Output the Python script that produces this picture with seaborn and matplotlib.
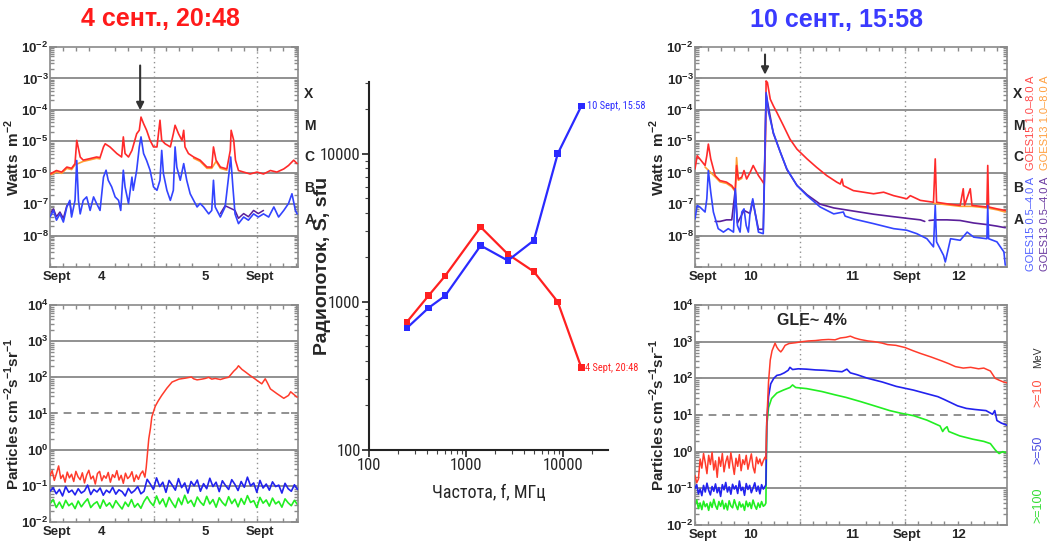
import numpy as np
import matplotlib
matplotlib.use("Agg")
import matplotlib.pyplot as plt
import matplotlib.font_manager as fm
from matplotlib.ticker import MultipleLocator, LogLocator, NullFormatter
import seaborn as sns

# ---------------- data (log10 values) ----------------
# Left GOES X-ray (4 Sept), time in hours from 4 Sept 00:00
lg_red_t = [0, 1.5, 2.7, 3.9, 5.0, 5.8, 6.2, 7.0, 7.7, 9.3, 10.8, 11.6, 12.4, 12.8, 13.9, 15.5, 16.6, 17.0, 17.4,
            18.2, 19.0, 20.1, 20.7, 21.1, 21.7, 22.4, 23.2, 24.0, 24.8, 25.5, 25.9, 26.7, 27.9, 28.6, 29.0, 29.8,
            30.6, 31.0, 31.3, 32.1, 33.3, 34.8, 35.6, 36.4, 37.5, 37.9, 38.5, 39.5, 41.0, 41.8, 42.0, 42.6, 43.0,
            43.7, 44.9, 46.4, 48.0, 49.5, 51.1, 52.6, 54.2, 55.3, 56.5, 57.3]
lg_red_v = [-6.04, -5.93, -5.98, -5.82, -5.86, -5.71, -4.97, -5.50, -5.60, -5.55, -5.50, -5.52, -5.18, -5.08, -5.18,
            -5.39, -5.50, -4.86, -5.39, -5.50, -5.29, -4.76, -4.65, -4.23, -4.44, -4.65, -4.97, -5.18, -5.18, -4.33,
            -4.97, -5.08, -5.18, -4.76, -4.49, -4.76, -4.97, -4.65, -5.18, -5.39, -5.50, -5.60, -5.71, -5.82, -5.82,
            -5.18, -5.60, -5.82, -5.88, -5.29, -4.65, -4.97, -5.60, -5.93, -5.98, -6.04, -5.98, -6.04, -5.93, -5.98,
            -5.88, -5.77, -5.60, -5.71]
lg_orange_t = [0, 1.5, 2.7, 3.9, 5.0, 5.8, 7.7, 9.3, 10.8, 11.6]
lg_orange_v = [-6.08, -5.97, -6.02, -5.86, -5.90, -5.75, -5.64, -5.59, -5.54, -5.56]
lg_orange2_t = [33.3, 34.8, 35.6, 36.4, 37.5, 38.5, 39.5, 41.0]
lg_orange2_v = [-5.54, -5.64, -5.75, -5.86, -5.86, -5.64, -5.86, -5.92]
lg_blue_t = [0, 0.8, 1.5, 2.3, 3.1, 3.9, 4.6, 5.0, 5.8, 6.2, 6.6, 7.0, 7.7, 8.5, 9.3, 10.1, 10.8, 11.6, 12.4, 13.0,
             13.5, 14.3, 15.1, 15.9, 16.4, 17.0, 17.4, 18.2, 19.0, 19.3, 20.1, 20.7, 21.1, 21.7, 22.4, 23.2, 24.0,
             24.8, 25.5, 25.9, 26.3, 27.1, 27.9, 28.6, 29.0, 29.4, 30.2, 31.0, 31.7, 32.5, 33.3, 34.1, 34.8, 35.6,
             36.8, 37.5, 37.9, 38.3, 39.5, 40.6, 41.4, 41.9, 42.4, 42.9, 43.7, 44.9, 46.0, 47.2, 48.3, 49.5, 50.7,
             51.9, 53.0, 54.2, 55.3, 56.1, 56.9, 57.3]
lg_blue_v = [-7.41, -7.20, -7.51, -7.31, -7.57, -7.09, -6.88, -7.41, -6.88, -5.61, -6.88, -7.31, -6.88, -6.77, -7.20,
             -6.77, -6.98, -7.20, -6.14, -5.92, -6.24, -6.45, -6.77, -6.88, -7.20, -5.92, -6.45, -6.98, -6.14, -6.56,
             -5.92, -5.18, -4.86, -5.39, -5.61, -5.92, -6.45, -6.56, -6.24, -5.29, -6.03, -6.56, -6.88, -6.56, -5.18,
             -5.82, -6.24, -5.71, -6.24, -6.67, -6.88, -7.09, -6.98, -7.09, -7.31, -7.20, -6.24, -7.09, -7.41, -7.09,
             -6.14, -5.50, -6.45, -7.31, -7.62, -7.41, -7.51, -7.31, -7.41, -7.31, -7.41, -7.09, -7.41, -7.20, -6.98,
             -6.67, -7.20, -7.31]
lg_purple_t = [0, 0.8, 1.5, 2.3, 3.1, 3.9, 4.6, 5.0]
lg_purple_v = [-7.30, -7.15, -7.40, -7.25, -7.45, -7.05, -6.95, -7.30]
lg_purple2_t = [39.5, 40.6, 42.9, 43.7, 44.9, 46.0, 47.2, 48.3, 49.5]
lg_purple2_v = [-7.30, -7.05, -7.20, -7.45, -7.30, -7.40, -7.20, -7.30, -7.20]

# Left particles (4 Sept)
lp_red_noise = [-0.72, -0.58, -0.85, -0.66, -0.45, -0.80, -0.70, -0.90, -0.62, -0.78,
                -0.68, -0.88, -0.60, -0.75, -0.83, -0.64, -0.92, -0.70, -0.57, -0.81,
                -0.73, -0.95, -0.66, -0.60, -0.86, -0.72, -0.79, -0.63, -0.90, -0.69,
                -0.77, -0.58, -0.84, -0.71, -0.93, -0.65, -0.80, -0.74, -0.61, -0.88,
                -0.70, -0.82, -0.67, -0.59, -0.76]
lp_red_t = [22.3, 22.6, 22.9, 23.3, 23.6, 24.0, 24.4, 25.1, 25.9, 27.1, 28.3, 29.9, 31.5, 32.8, 33.3, 34.1, 35.2,
            36.0, 36.8, 37.5, 38.3, 39.5, 40.6, 41.4, 42.6, 43.3, 43.7, 44.5, 45.3, 46.4, 47.6, 48.4, 49.1, 49.9,
            50.4, 51.1, 52.6, 54.2, 55.3, 55.8, 56.6, 57.3]
lp_red_v = [-0.50, -0.10, 0.30, 0.60, 0.90, 1.05, 1.20, 1.35, 1.50, 1.70, 1.87, 1.95, 1.98, 2.01, 1.96, 1.93, 1.95,
            1.97, 2.00, 1.95, 1.97, 1.94, 1.98, 2.00, 2.17, 2.25, 2.32, 2.22, 2.15, 2.05, 1.95, 1.88, 1.82, 1.96,
            1.85, 1.68, 1.55, 1.42, 1.50, 1.60, 1.52, 1.45]
lp_blue_v = [-1.15, -1.05, -1.22, -1.10, -1.28, -1.02, -1.18, -1.12, -1.25, -1.08, -1.20, -1.14, -0.98, -1.24,
             -1.10, -1.17, -1.06, -1.26, -1.12, -1.19, -1.04, -1.23, -1.11, -1.16, -1.28, -1.07, -1.20, -1.13,
             -1.02, -1.22, -1.15,
             -0.82, -0.95, -1.10, -0.78, -1.02, -0.90, -1.18, -0.85, -0.98, -1.12, -0.80, -1.05, -0.92, -1.20,
             -0.88, -1.00, -0.84, -1.15, -0.94, -1.08, -0.79, -1.02, -0.90, -1.16, -0.86, -0.99, -1.10, -0.83,
             -0.96, -1.13, -0.88, -1.04, -0.76, -1.00, -0.92, -1.18, -0.85, -1.06, -0.95, -1.12, -0.89, -1.02,
             -0.98, -1.20, -0.93, -1.08, -1.15, -0.97, -1.10]
lp_green_v = [-1.50, -1.38, -1.60, -1.45, -1.62, -1.40, -1.55, -1.48, -1.63, -1.42, -1.58, -1.46, -1.36, -1.60,
              -1.50, -1.44, -1.62, -1.39, -1.56, -1.47, -1.61, -1.41, -1.53, -1.64, -1.45, -1.57, -1.38, -1.59,
              -1.49, -1.62, -1.43,
              -1.30, -1.45, -1.55, -1.28, -1.50, -1.36, -1.58, -1.32, -1.47, -1.60, -1.34, -1.52, -1.26, -1.48,
              -1.40, -1.57, -1.31, -1.45, -1.54, -1.29, -1.50, -1.38, -1.59, -1.33, -1.46, -1.55, -1.30, -1.49,
              -1.37, -1.58, -1.35, -1.51, -1.27, -1.46, -1.41, -1.60, -1.32, -1.48, -1.39, -1.56, -1.34, -1.50,
              -1.43, -1.59, -1.36, -1.47, -1.55, -1.40, -1.52]

# Right GOES X-ray (10 Sept), hours from 10 Sept 00:00
rg_red_t = [0, 0.5, 1.1, 2.3, 2.7, 3.05, 3.6, 4.6, 5.7, 7.2, 8.4, 9.2, 9.5, 9.9, 10.7, 11.2, 11.8, 12.6, 13.3, 13.7,
            14.5, 15.3, 15.8, 16.1, 16.25, 16.55, 17.2, 17.9, 18.7, 20.2, 21.7, 23.3, 25.6, 27.8, 30.1, 32.4, 33.2,
            33.6, 33.9, 36.2, 38.5, 40.8, 43.1, 45.4, 48.4, 49.2, 51.5, 54.5, 54.9, 55.2, 57.6, 60.6, 61.3, 61.6,
            62.9, 63.3, 66.7, 66.9, 67.1, 69.0, 70.9]
rg_red_v = [-5.88, -5.46, -5.56, -5.77, -5.46, -5.09, -5.56, -6.09, -6.25, -6.30, -6.41, -6.57, -5.77, -6.20, -6.14,
            -5.93, -6.20, -5.99, -5.77, -5.88, -6.09, -6.25, -6.36, -5.03, -3.08, -3.13, -3.66, -3.87, -4.08, -4.50,
            -4.93, -5.25, -5.56, -5.83, -6.09, -6.30, -6.36, -6.20, -6.41, -6.57, -6.62, -6.67, -6.62, -6.73, -6.83,
            -6.73, -6.88, -6.94, -5.56, -6.94, -6.99, -7.04, -6.51, -7.04, -6.51, -7.04, -7.09, -5.77, -7.09, -7.15,
            -7.20]
rg_orange_t = [2.3, 4.6, 5.7, 7.2, 8.4, 9.2, 9.5, 9.9, 10.7]
rg_orange_v = [-5.82, -6.13, -6.29, -6.34, -6.45, -6.60, -5.52, -6.24, -6.18]
rg_orange2_t = [54.5, 57.6, 60.6, 63.3, 66.7, 69.0, 70.9]
rg_orange2_v = [-6.97, -7.02, -7.07, -7.07, -7.12, -7.18, -7.25]
rg_blue_t = [0, 0.5, 1.1, 2.3, 2.7, 3.05, 3.6, 4.2, 5.3, 6.5, 7.6, 8.8, 9.2, 9.7, 10.3, 10.7, 11.2, 11.7, 12.2, 12.6,
             13.2, 13.7, 14.5, 15.6, 15.9, 16.25, 16.8, 17.9, 19.5, 21.0, 23.3, 25.6, 28.6, 31.7, 33.9, 34.3, 36.2,
             40.8, 45.4, 48.4, 50.7, 53.0, 54.5, 54.9, 55.2, 56.8, 57.2, 58.4, 60.6, 62.2, 63.7, 66.7, 66.9, 67.1,
             69.0, 70.6, 70.9]
rg_blue_v = [-7.47, -7.04, -7.09, -7.25, -6.83, -5.93, -6.62, -7.25, -7.78, -7.89, -7.78, -7.89, -6.51, -7.68, -7.89,
             -7.25, -7.15, -7.68, -7.89, -7.25, -6.83, -7.25, -7.89, -7.94, -5.99, -3.45, -4.08, -4.72, -5.35, -5.88,
             -6.41, -6.73, -7.09, -7.31, -7.25, -7.38, -7.47, -7.62, -7.78, -7.83, -7.94, -8.10, -8.36, -7.04, -8.20,
             -8.63, -8.84, -8.10, -8.15, -7.89, -8.05, -8.10, -7.04, -8.10, -8.20, -8.52, -8.94]
rg_purple_t = [4.6, 5.7, 7.2, 8.4, 9.2, 9.7, 11.2, 12.6, 13.2, 14.5, 15.6, 16.25, 17.9, 21.0,
               23.3, 25.6, 28.6, 31.7, 36.2, 40.8, 45.4, 48.4, 51.5, 52.5]
rg_purple_v = [-7.55, -7.55, -7.50, -7.50, -6.55, -7.60, -7.20, -7.30, -6.90, -7.80,
               -7.80, -3.50, -4.75, -5.90, -6.40, -6.70, -7.00, -7.12, -7.22, -7.32, -7.40, -7.45, -7.50, -7.55]
rg_purple2_t = [53.5, 55.0, 57.6, 60.6, 63.7, 66.7, 69.0, 70.9]
rg_purple2_v = [-7.52, -7.50, -7.50, -7.52, -7.60, -7.65, -7.70, -7.75]

# Right particles (10 Sept)
rp_red_noise = [-0.65, -0.85, -0.75, -0.20, -0.45, -0.05, -0.30, -0.60, -0.10, -0.35, -0.02, -0.50, -0.25, -0.70,
                -0.15, -0.40, -0.05, -0.55, -0.28, -0.12, -0.45, -0.03, -0.32, -0.62, -0.18, -0.40, -0.08, -0.52,
                -0.22, -0.35, -0.10, -0.48, -0.27, -0.06, -0.42, -0.58, -0.15, -0.33, -0.20, -0.38, -0.25, -0.15]
rp_blue_noise = [-1.00, -0.90, -1.15, -1.02, -1.20, -0.92, -1.10, -0.86, -1.05, -1.18, -0.95, -1.08, -0.88, -1.12,
                 -0.98, -1.22, -0.90, -1.04, -0.84, -1.10, -0.96, -1.16, -0.89, -1.02, -0.93, -1.14, -0.80, -1.06,
                 -0.97, -1.19, -0.87, -1.03, -0.92, -1.12, -0.99, -0.85, -1.08, -0.94, -1.15, -0.90, -1.02, -0.95]
rp_green_noise = [-1.45, -1.32, -1.55, -1.40, -1.58, -1.35, -1.50, -1.42, -1.60, -1.38, -1.52, -1.30, -1.47, -1.57,
                  -1.36, -1.49, -1.33, -1.56, -1.41, -1.59, -1.34, -1.48, -1.53, -1.31, -1.46, -1.58, -1.37, -1.51,
                  -1.43, -1.60, -1.35, -1.50, -1.39, -1.55, -1.32, -1.47, -1.57, -1.40, -1.52, -1.36, -1.49, -1.45]
rp_red_t = [16.2, 16.4, 16.8, 17.2, 17.6, 18.3, 18.7, 19.1, 19.6, 20.0, 20.6, 21.5, 22.9, 24.5, 25.9, 27.5, 29.0,
            30.5, 32.0, 33.2, 34.5, 35.5, 36.5, 37.7, 39.5, 41.0, 42.8, 44.0, 45.9, 48.0, 49.9, 51.5, 54.0, 56.5,
            58.0, 59.5, 61.3, 63.0, 64.8, 66.0, 67.5, 68.6, 69.5, 70.5, 71.3]
rp_red_v = [-0.20, 0.80, 1.90, 2.50, 2.75, 2.96, 2.85, 2.78, 2.72, 2.78, 2.90, 2.95, 2.97, 3.00, 3.02, 3.03, 3.05,
            3.06, 3.05, 3.10, 3.12, 3.15, 3.10, 3.06, 3.02, 3.00, 2.96, 2.92, 2.90, 2.84, 2.75, 2.68, 2.58, 2.47,
            2.40, 2.32, 2.28, 2.30, 2.26, 2.28, 2.20, 2.00, 1.95, 1.90, 1.88]
rp_blue_t = [16.2, 16.4, 16.8, 17.3, 18.0, 18.7, 19.5, 20.4, 21.3, 21.7, 22.3, 23.6, 25.5, 27.5, 29.5, 31.5, 33.6,
             34.7, 35.5, 37.0, 39.5, 42.8, 46.0, 49.9, 53.0, 55.5, 57.0, 60.0, 62.0, 64.0, 66.5, 68.0, 68.5, 69.0,
             70.0, 71.3]
rp_blue_v = [-0.90, 0.80, 1.50, 1.85, 2.00, 2.08, 2.10, 2.15, 2.22, 2.30, 2.24, 2.26, 2.25, 2.23, 2.22, 2.20, 2.18,
             2.25, 2.15, 2.10, 2.00, 1.90, 1.78, 1.68, 1.58, 1.50, 1.42, 1.25, 1.18, 1.15, 1.12, 1.02, 1.12, 0.85,
             0.78, 0.72]
rp_green_t = [16.2, 16.4, 16.8, 17.5, 18.7, 20.2, 21.7, 22.3, 23.0, 25.5, 29.0, 32.0, 34.5, 38.0, 41.0, 44.5, 47.0,
              50.0, 53.0, 56.0, 56.6, 57.0, 57.6, 58.0, 60.5, 63.5, 66.0, 67.5, 68.6, 69.0, 69.5, 70.3, 71.3]
rp_green_v = [-1.40, 0.70, 1.20, 1.45, 1.60, 1.68, 1.75, 1.82, 1.75, 1.72, 1.64, 1.55, 1.48, 1.36, 1.25, 1.12, 1.05,
              0.98, 0.86, 0.70, 0.55, 0.62, 0.68, 0.55, 0.43, 0.34, 0.28, 0.22, 0.05, 0.00, -0.05, 0.00, -0.03]

# Radio spectrum (middle panel)
freq_mhz = [245, 410, 610, 1415, 2695, 4995, 8800, 15400]
flux_4sep = [730, 1100, 1500, 3200, 2100, 1600, 1000, 360]
flux_10sep = [665, 910, 1100, 2400, 1900, 2600, 10000, 21000]

left_xlabels = ["Sept", "4", "5", "Sept"]
left_xlabel_pos = [1.6, 12, 36, 48.6]
right_xlabels = ["Sept", "10", "11", "Sept", "12"]
right_xlabel_pos = [1.8, 12.6, 36, 48.5, 60.2]
goes_classes = ["X", "M", "C", "B", "A"]

# ---------------- style ----------------
sns.set_theme(style="ticks")
plt.rcParams["font.family"] = ["Liberation Sans", "DejaVu Sans"]
plt.rcParams["mathtext.fontset"] = "custom"
plt.rcParams["mathtext.rm"] = "Liberation Sans"
plt.rcParams["mathtext.bf"] = "Liberation Sans:bold"

_fonts = fm.fontManager.ttflist
_names = {f.name for f in _fonts}
if "Liberation Sans Narrow" in _names:
    NARROW = dict(family="Liberation Sans Narrow")
elif "Roboto Condensed" in _names:
    NARROW = dict(family="Roboto Condensed")
elif "DejaVu Sans Condensed" in _names:
    NARROW = dict(family="DejaVu Sans Condensed")
elif any(f.name == "DejaVu Sans" and "condensed" in str(f.stretch) for f in _fonts):
    NARROW = dict(family="DejaVu Sans", stretch="condensed")
elif "Open Sans Condensed" in _names:
    NARROW = dict(family="Open Sans Condensed")
else:
    NARROW = dict(family="Liberation Sans")

RED = "#ff2a2a"
ORANGE = "#ffa033"
BLUE = "#3344ff"
PURPLE = "#5a1f9a"
PRED = "#ff3b2b"
PBLUE = "#2222ee"
PGREEN = "#22ee22"
FRAME = "#8a8a8a"

W, H = 1051, 542
fig = plt.figure(figsize=(W / 100, H / 100), dpi=100)


def box(x0, y0, x1, y1):
    return [x0 / W, 1 - y1 / H, (x1 - x0) / W, (y1 - y0) / H]


def line(ax, t, v, color, lw=1.0, z=2):
    sns.lineplot(x=np.asarray(t, float), y=10.0 ** np.asarray(v, float), ax=ax, color=color, lw=lw,
                 estimator=None, sort=False, legend=False, zorder=z)


def style_time_axis(ax, xmax, lo, hi, labeled, dashed, xlabels, xpos):
    ax.set_yscale("log")
    ax.set_xlim(0, xmax)
    ax.set_ylim(10.0 ** lo, 10.0 ** hi)
    for s in ax.spines.values():
        s.set_color(FRAME)
        s.set_linewidth(1.2)
    for e in range(lo + 1, hi):
        ax.axhline(10.0 ** e, color="#909090", lw=1.4,
                   ls=(0, (4, 3)) if e in dashed else "-", zorder=1)
    for d in (24, 48):
        if d < xmax:
            ax.axvline(d, color="#909090", lw=1.0, ls=(0, (1, 2.5)), zorder=1)
    ticks = [10.0 ** e for e in range(lo, hi + 1)]
    ax.set_yticks(ticks)
    ax.set_yticklabels([r"$\mathbf{10^{%d}}$" % e if e in labeled else "" for e in range(lo, hi + 1)])
    ax.yaxis.set_minor_locator(LogLocator(base=10, subs=np.arange(2, 10), numticks=30))
    ax.yaxis.set_minor_formatter(NullFormatter())
    ax.tick_params(axis="y", which="major", direction="in", length=5, color=FRAME, labelsize=9.5, pad=1,
                   left=True, right=True)
    ax.tick_params(axis="y", which="minor", direction="in", length=3, color=FRAME, left=True, right=True)
    ax.set_xticks(xpos)
    ax.set_xticklabels(xlabels, fontweight="bold")
    ax.xaxis.set_minor_locator(MultipleLocator(3))
    ax.tick_params(axis="x", which="major", length=0, labelsize=9.5, pad=3)
    ax.tick_params(axis="x", which="minor", direction="in", length=3, color=FRAME, top=True, bottom=True)


# ---------------- left GOES ----------------
ax1 = fig.add_axes(box(50, 47, 298, 267))
style_time_axis(ax1, 57.5, -9, -2, range(-8, -1), [], left_xlabels, left_xlabel_pos)
line(ax1, lg_orange_t, lg_orange_v, ORANGE, 1.2, 2)
line(ax1, lg_orange2_t, lg_orange2_v, ORANGE, 1.2, 2)
line(ax1, lg_red_t, lg_red_v, RED, 1.2, 3)
line(ax1, lg_purple_t, lg_purple_v, PURPLE, 1.1, 2)
line(ax1, lg_purple2_t, lg_purple2_v, PURPLE, 1.1, 2)
line(ax1, lg_blue_t, lg_blue_v, BLUE, 1.2, 3)
ax1.set_ylabel(r"Watts  m$^{\mathbf{-2}}$", fontsize=11, fontweight="bold")
ax1.yaxis.set_label_coords(-0.113, 0.5)
ax1.annotate("", xy=(20.9, 10 ** -4.1), xytext=(20.9, 10 ** -2.5),
             arrowprops=dict(arrowstyle="-|>", color="#333333", lw=1.5, mutation_scale=11))
for i, c in enumerate(goes_classes):
    ax1.text(1.025, 10 ** (-3.5 - i), c, transform=ax1.get_yaxis_transform(), fontsize=10,
             fontweight="bold", va="center", ha="left")

# ---------------- left particles ----------------
ax2 = fig.add_axes(box(50, 305, 298, 522))
style_time_axis(ax2, 57.5, -2, 4, range(-2, 5), [1], left_xlabels, left_xlabel_pos)
lp_red_all_t = np.concatenate([np.linspace(0, 22.0, len(lp_red_noise)), lp_red_t])
lp_red_all_v = np.concatenate([lp_red_noise, lp_red_v])
line(ax2, np.linspace(0, 57.4, len(lp_green_v)), lp_green_v, PGREEN, 1.2, 2)
line(ax2, np.linspace(0, 57.4, len(lp_blue_v)), lp_blue_v, PBLUE, 1.2, 3)
line(ax2, lp_red_all_t, lp_red_all_v, PRED, 1.1, 4)
ax2.set_ylabel(r"Particles cm$^{\mathbf{-2}}$s$^{\mathbf{-1}}$sr$^{\mathbf{-1}}$", fontsize=11,
               fontweight="bold")
ax2.yaxis.set_label_coords(-0.113, 0.5)

# ---------------- middle radio spectrum ----------------
ax3 = fig.add_axes(box(369, 82, 608, 450))
line(ax3, freq_mhz, np.log10(flux_4sep), "#ff2020", 1.6, 3)
line(ax3, freq_mhz, np.log10(flux_10sep), "#2a2aff", 1.6, 3)
sns.scatterplot(x=freq_mhz, y=flux_4sep, ax=ax3, color="#ff2020", marker="s", s=22, edgecolor="none", zorder=4)
sns.scatterplot(x=freq_mhz, y=flux_10sep, ax=ax3, color="#2a2aff", marker="s", s=22, edgecolor="none", zorder=4)
ax3.set_xscale("log")
ax3.set_yscale("log")
ax3.set_xlim(100, 29000)
ax3.set_ylim(100, 30500)
sns.despine(ax=ax3)
for s in ("left", "bottom"):
    ax3.spines[s].set_color("#222222")
    ax3.spines[s].set_linewidth(1.5)
ax3.set_xticks([100, 1000, 10000])
ax3.set_xticklabels(["100", "1000", "10000"], fontsize=12, **NARROW)
ax3.set_yticks([100, 1000, 10000])
ax3.set_yticklabels(["100", "1000", "10000"], fontsize=12, **NARROW)
ax3.tick_params(which="major", length=5, width=1.2, color="#222222", pad=1)
ax3.tick_params(which="minor", length=3, width=0.8, color="#444444")
ax3.set_xlabel("Частота, f, МГц", fontsize=13, labelpad=8, **NARROW)
ax3.set_ylabel("Радиопоток, S, sfu", fontsize=14, fontweight="bold")
ax3.yaxis.set_label_coords(-0.16, 0.5)
ax3.annotate("10 Sept, 15:58", xy=(freq_mhz[-1], flux_10sep[-1]), xytext=(4, 0), textcoords="offset points",
             color="#2a2aff", fontsize=7.5, va="center", ha="left", annotation_clip=False, **NARROW)
ax3.annotate("4 Sept, 20:48", xy=(freq_mhz[-1], flux_4sep[-1]), xytext=(3, 0), textcoords="offset points",
             color="#ff2020", fontsize=7.5, va="center", ha="left", annotation_clip=False, **NARROW)

# ---------------- right GOES ----------------
ax4 = fig.add_axes(box(695, 47, 1007, 267))
style_time_axis(ax4, 71.3, -9, -2, range(-8, -1), [], right_xlabels, right_xlabel_pos)
line(ax4, rg_orange_t, rg_orange_v, ORANGE, 1.2, 2)
line(ax4, rg_orange2_t, rg_orange2_v, ORANGE, 1.2, 2)
line(ax4, rg_red_t, rg_red_v, RED, 1.2, 3)
line(ax4, rg_purple_t, rg_purple_v, PURPLE, 1.2, 2)
line(ax4, rg_purple2_t, rg_purple2_v, PURPLE, 1.2, 2)
line(ax4, rg_blue_t, rg_blue_v, BLUE, 1.2, 3)
ax4.set_ylabel(r"Watts  m$^{\mathbf{-2}}$", fontsize=11, fontweight="bold")
ax4.yaxis.set_label_coords(-0.09, 0.5)
ax4.annotate("", xy=(16.0, 10 ** -2.97), xytext=(16.0, 10 ** -2.15),
             arrowprops=dict(arrowstyle="-|>", color="#333333", lw=1.5, mutation_scale=11))
for i, c in enumerate(goes_classes):
    ax4.text(1.02, 10 ** (-3.5 - i), c, transform=ax4.get_yaxis_transform(), fontsize=10,
             fontweight="bold", va="center", ha="left")
fig.text(1031 / W, 1 - 123 / H, "GOES15 1.0–8.0 A", rotation=90, color="#ff4a4a", fontsize=8,
         ha="center", va="center")
fig.text(1045 / W, 1 - 123 / H, "GOES13 1.0–8.0 A", rotation=90, color="#ffa040", fontsize=8,
         ha="center", va="center")
fig.text(1031 / W, 1 - 224 / H, "GOES15 0.5–4.0 A", rotation=90, color="#5060ff", fontsize=8,
         ha="center", va="center")
fig.text(1045 / W, 1 - 224 / H, "GOES13 0.5–4.0 A", rotation=90, color="#6a3aa0", fontsize=8,
         ha="center", va="center")

# ---------------- right particles ----------------
ax5 = fig.add_axes(box(695, 305, 1007, 525))
style_time_axis(ax5, 71.3, -2, 4, range(-2, 5), [1], right_xlabels, right_xlabel_pos)
t_noise = np.linspace(0, 16.0, len(rp_red_noise))
line(ax5, np.concatenate([t_noise, rp_green_t]), np.concatenate([rp_green_noise, rp_green_v]), PGREEN, 1.2, 2)
line(ax5, np.concatenate([t_noise, rp_blue_t]), np.concatenate([rp_blue_noise, rp_blue_v]), PBLUE, 1.2, 3)
line(ax5, np.concatenate([t_noise, rp_red_t]), np.concatenate([rp_red_noise, rp_red_v]), PRED, 1.1, 4)
ax5.set_ylabel(r"Particles cm$^{\mathbf{-2}}$s$^{\mathbf{-1}}$sr$^{\mathbf{-1}}$", fontsize=11,
               fontweight="bold")
ax5.yaxis.set_label_coords(-0.09, 0.5)
ax5.text(0.375, 0.93, "GLE~ 4%", transform=ax5.transAxes, fontsize=11.5, fontweight="bold",
         ha="center", va="center")
fig.text(1038 / W, 1 - 357 / H, "MeV", rotation=90, color="#333333", fontsize=7.5, ha="center", va="center")
fig.text(1038 / W, 1 - 393 / H, ">=10", rotation=90, color="#ff5040", fontsize=9, ha="center", va="center")
fig.text(1038 / W, 1 - 450 / H, ">=50", rotation=90, color="#4a4ae0", fontsize=9, ha="center", va="center")
fig.text(1038 / W, 1 - 505 / H, ">=100", rotation=90, color="#33dd33", fontsize=9, ha="center", va="center")

# ---------------- titles ----------------
fig.text(160 / W, 1 - 19 / H, "4 сент., 20:48", color="#ff1a1a", fontsize=18, fontweight="bold",
         ha="center", va="center")
fig.text(837 / W, 1 - 20 / H, "10 сент., 15:58", color="#3a3aff", fontsize=18, fontweight="bold",
         ha="center", va="center")

fig.savefig("out.png", dpi=100)
